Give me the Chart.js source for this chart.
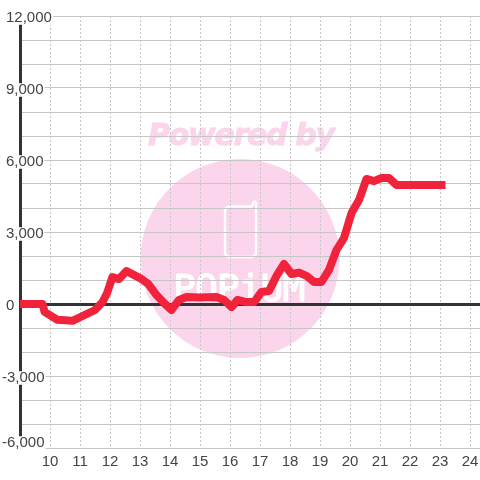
<!DOCTYPE html>
<html>
<head>
<meta charset="utf-8">
<style>
  html, body { margin: 0; padding: 0; background: #fff; }
  #wrap { width: 480px; height: 480px; }
</style>
<script src="https://cdn.jsdelivr.net/npm/chart.js@4"></script>
</head>
<body>
<div id="wrap"><canvas id="chart" width="480" height="480"></canvas></div>
<script>
// Values
const hours = [9, 9.75, 9.82, 10.25, 10.75, 11.5, 11.75, 11.9, 12.08, 12.3, 12.55, 13, 13.28, 13.55, 13.8, 14.05, 14.3, 14.55, 15, 15.55, 15.8, 16.05, 16.25, 16.55, 16.8, 17.05, 17.3, 17.55, 17.8, 18.05, 18.3, 18.55, 18.8, 19.05, 19.3, 19.55, 19.8, 20.05, 20.3, 20.55, 20.8, 21.05, 21.3, 21.55, 23.05];
const profit = [0, 0, -330, -660, -700, -250, 80, 450, 1120, 1040, 1370, 1080, 830, 370, 40, -250, 170, 290, 270, 290, 170, -130, 170, 80, 80, 500, 540, 1170, 1670, 1250, 1310, 1170, 920, 920, 1420, 2250, 2750, 3790, 4330, 5210, 5120, 5250, 5250, 4960, 4960];
const yTickValues = [-6000, -3000, 0, 3000, 6000, 9000, 12000];
const yTickLabels = ['-6,000', '-3,000', '0', '3,000', '6,000', '9,000', '12,000'];
const xTickValues = [10, 11, 12, 13, 14, 15, 16, 17, 18, 19, 20, 21, 22, 23, 24];

const textColor = '#444444';
const gridColor = '#c6c6c6';
const axisColor = '#333333';
const markPink = '#fbd5ec';

// Watermark sits under the grid
const watermark = {
    id: 'watermark',
    beforeDraw(chart) {
        const ctx = chart.ctx;
        ctx.save();
        ctx.fillStyle = markPink;
        ctx.beginPath();
        ctx.arc(240, 258.5, 99.5, 0, Math.PI * 2);
        ctx.fill();

        ctx.font = 'italic bold 30px "DejaVu Sans"';
        ctx.letterSpacing = '-1.3px';
        ctx.textAlign = 'left';
        ctx.textBaseline = 'alphabetic';
        ctx.strokeStyle = markPink;
        ctx.lineWidth = 1;
        ctx.fillText('Powered by', 148, 145);
        ctx.strokeText('Powered by', 148, 145);

        // phone outline
        ctx.strokeStyle = '#ffffff';
        ctx.lineWidth = 2.4;
        ctx.lineJoin = 'round';
        ctx.lineCap = 'round';
        ctx.beginPath();
        ctx.moveTo(252, 206.5);
        ctx.lineTo(230, 206.5);
        ctx.quadraticCurveTo(225, 206.5, 225, 211.5);
        ctx.lineTo(225, 252);
        ctx.quadraticCurveTo(225, 257, 230, 257);
        ctx.lineTo(251, 257);
        ctx.quadraticCurveTo(256, 257, 256, 252);
        ctx.lineTo(256, 203);
        ctx.quadraticCurveTo(254.5, 200, 253, 203);
        ctx.lineTo(252, 206.5);
        ctx.stroke();

        // logo word
        ctx.fillStyle = '#ffffff';
        ctx.font = '38px "DejaVu Sans Mono"';
        ctx.letterSpacing = '-1px';
        ctx.lineWidth = 1.2;
        ctx.fillText('POPiUM', 173, 301);
        ctx.strokeText('POPiUM', 173, 301);
        ctx.restore();
    }
};

// Nudges the y labels to where they sit in the reference
const labelNudge = {
    id: 'labelNudge',
    afterUpdate(chart) {
        chart.scales.y.getLabelItems(chart.chartArea).forEach(item => {
            const text = String(item.label);
            let dx = 0;
            let dy = 2;
            if (text.startsWith('-')) dx = -4;
            if (text === '-6,000') dy = -5;
            item.options.translation[0] += dx;
            item.options.translation[1] += dy;
            if (item.backdrop) {
                item.backdrop.left += dx;
                item.backdrop.top += dy;
            }
        });
    }
};

new Chart(document.getElementById('chart'), {
    type: 'line',
    data: {
        datasets: [{
            data: hours.map((h, i) => ({ x: h, y: profit[i] })),
            borderColor: '#f0233b',
            borderWidth: 8,
            borderCapStyle: 'square',
            borderJoinStyle: 'round',
            pointRadius: 0,
            tension: 0,
            fill: false
        }]
    },
    plugins: [watermark, labelNudge],
    options: {
        responsive: false,
        animation: false,
        layout: { padding: { top: 16, left: 20, right: 0, bottom: 0 } },
        plugins: { legend: { display: false }, tooltip: { enabled: false } },
        scales: {
            x: {
                type: 'linear',
                min: 9,
                max: 24.3333,
                afterFit(scale) {
                    scale.height = 32;
                    scale.paddingLeft = 0;
                    scale.paddingRight = 0;
                },
                border: { display: false, dash: [2, 2] },
                grid: { color: gridColor, lineWidth: 1, drawTicks: false },
                ticks: {
                    stepSize: 1,
                    includeBounds: false,
                    autoSkip: false,
                    maxRotation: 0,
                    padding: 5,
                    color: textColor,
                    font: { family: '"Liberation Sans"', size: 15 },
                    callback: value => xTickValues.includes(value) ? String(value) : ''
                }
            },
            y: {
                min: -6000,
                max: 12000,
                afterFit(scale) { scale.width = 0; },
                border: { display: true, color: axisColor, width: 3 },
                grid: {
                    drawTicks: false,
                    color: ctx => ctx.tick.value === 0 ? axisColor : gridColor,
                    lineWidth: ctx => ctx.tick.value === 0 ? 3 : 1
                },
                ticks: {
                    stepSize: 1000,
                    autoSkip: false,
                    mirror: true,
                    padding: -14,
                    z: 1,
                    color: textColor,
                    showLabelBackdrop: true,
                    backdropColor: '#ffffff',
                    backdropPadding: { left: 0, right: 1, top: 0, bottom: 0 },
                    font: { family: '"Liberation Sans"', size: 15, lineHeight: 0.9 },
                    callback: value => {
                        const i = yTickValues.indexOf(value);
                        return i >= 0 ? yTickLabels[i] : '';
                    }
                }
            }
        }
    }
});
</script>
</body>
</html>
